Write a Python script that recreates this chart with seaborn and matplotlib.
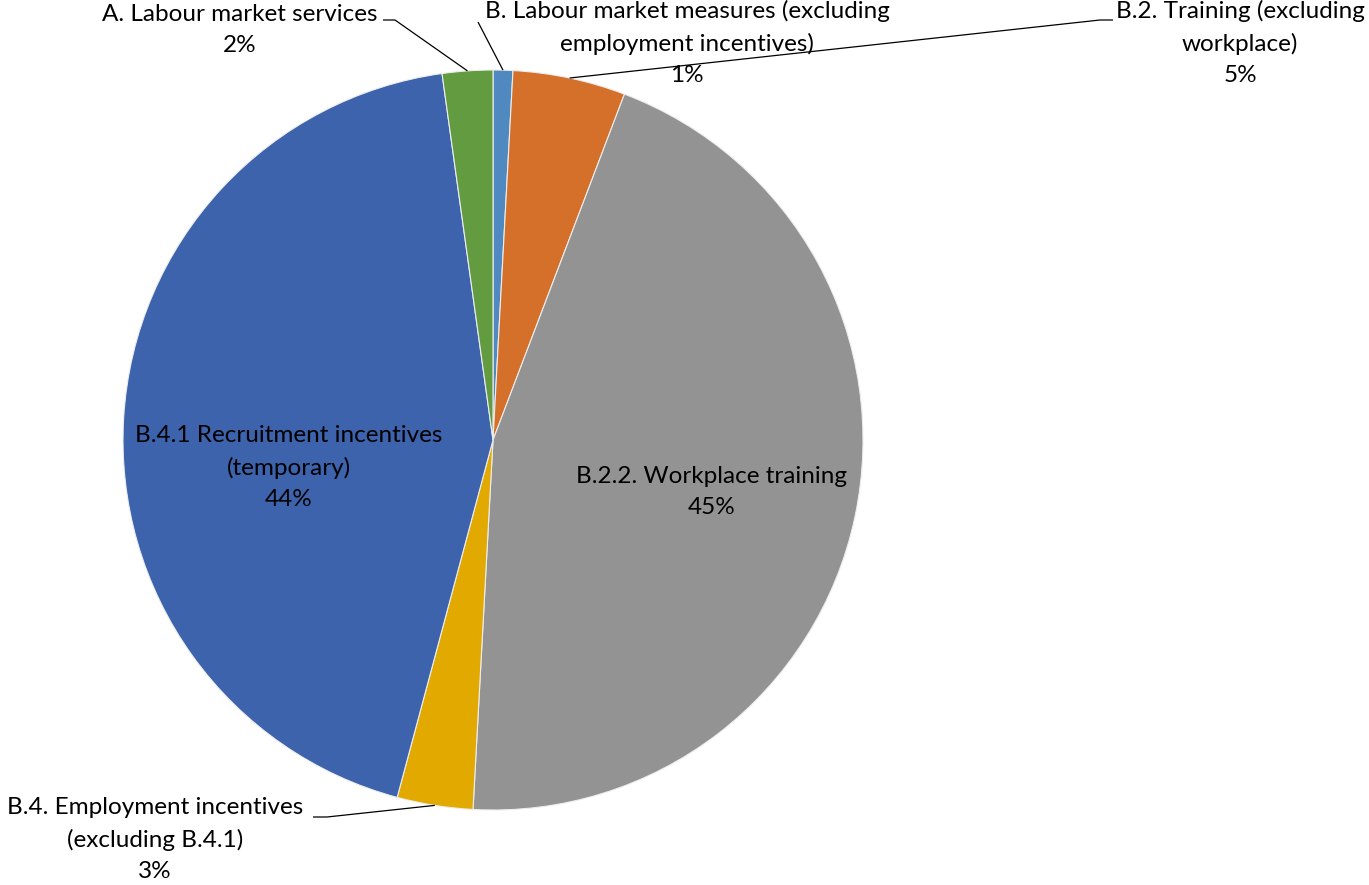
import numpy as np
import matplotlib
matplotlib.use("Agg")
import matplotlib.pyplot as plt
import seaborn as sns

# Shares of spending by category, clockwise from 12 o'clock
categories = [
    "B. Labour market measures (excluding\nemployment incentives)",
    "B.2. Training (excluding\nworkplace)",
    "B.2.2. Workplace training",
    "B.4. Employment incentives\n(excluding B.4.1)",
    "B.4.1 Recruitment incentives\n(temporary)",
    "A. Labour market services",
]
shares = [0.86, 4.92, 45.08, 3.31, 43.63, 2.20]
colors = ["#4F89BF", "#D5702A", "#939393", "#E2AA00", "#3D63AD", "#629B40"]

sns.set_theme(style="white")
plt.rcParams["font.family"] = ["Lato", "DejaVu Sans"]

W, H = 1369, 885
fig = plt.figure(figsize=(W / 100, H / 100), dpi=100)
ax = fig.add_axes([0, 0, 1, 1])

cx, cy, r = 493, H - 440, 370
wedges, _ = ax.pie(
    shares, colors=colors, startangle=90, counterclock=False,
    radius=r, center=(cx, cy), frame=True,
    wedgeprops=dict(edgecolor="#EDEDED", linewidth=0.8),
)
ax.set_xlim(0, W)
ax.set_ylim(0, H)
ax.set_aspect("equal")
ax.axis("off")

fs = 17.5
# label placement in pixels from the top-left: text anchor and leader elbow
placement = {
    0: dict(xy=(687, 0), leader=[(478, 22)]),
    1: dict(xy=(1240, 0), leader=[(1113, 20), (1100, 20)]),
    2: dict(xy=(712, 466), leader=None),
    3: dict(xy=(155, 797), leader=[(313, 817), (327, 817)]),
    4: dict(xy=(289, 425), leader=None),
    5: dict(xy=(240, 4), leader=[(383, 20), (395, 20)]),
}

cum = np.cumsum([0] + shares)
for i, (name, val) in enumerate(zip(categories, shares)):
    p = placement[i]
    tx, ty = p["xy"]
    ax.text(tx, H - ty, f"{name}\n{val:.0f}%", ha="center", va="top",
            fontsize=fs, color="black", linespacing=1.6)
    if p["leader"] is not None:
        mid = (cum[i] + cum[i + 1]) / 2 / 100 * 2 * np.pi
        ex = cx + r * np.sin(mid)
        ey = cy + r * np.cos(mid)
        pts = [(x, H - y) for x, y in p["leader"]] + [(ex, ey)]
        xs, ys = zip(*pts)
        ax.plot(xs, ys, color="black", lw=0.9, solid_capstyle="butt")

fig.savefig("out.png", dpi=100)
